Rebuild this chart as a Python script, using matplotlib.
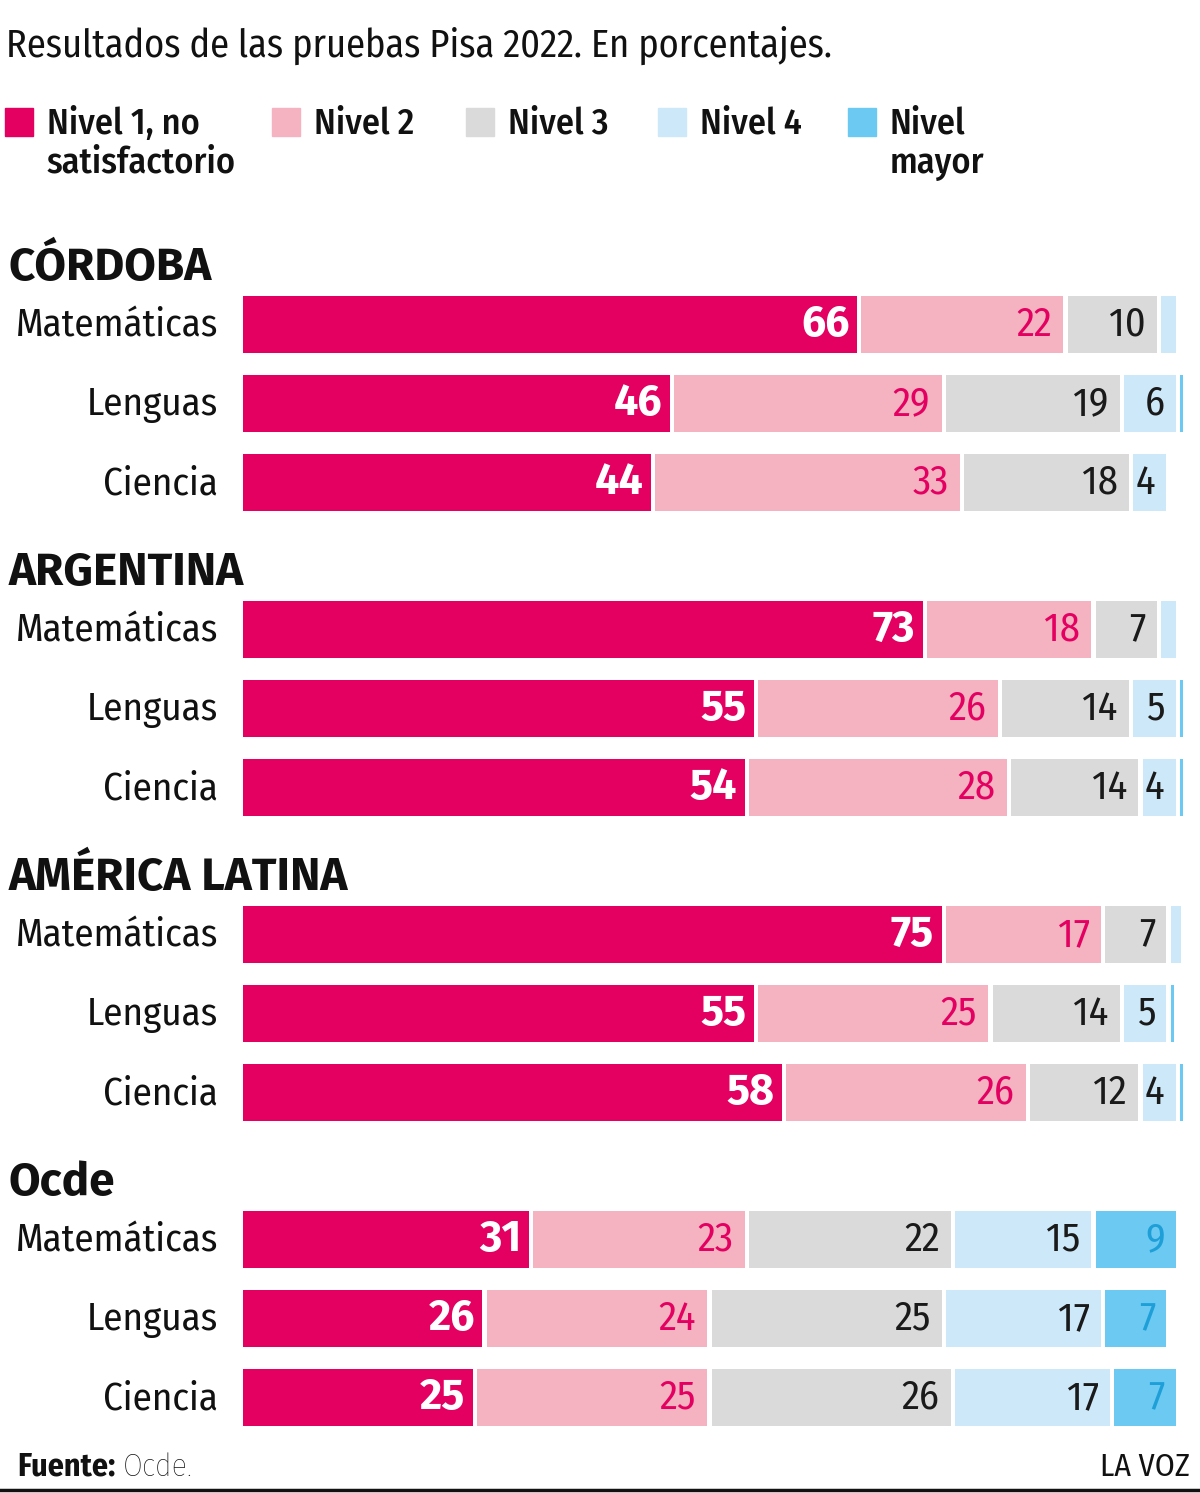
import matplotlib
matplotlib.use("Agg")
import matplotlib.pyplot as plt
import numpy as np

W, H = 1200, 1493

grupos = ["CÓRDOBA", "ARGENTINA", "AMÉRICA LATINA", "Ocde"]
materias = ["Matemáticas", "Lenguas", "Ciencia"]
niveles = ["Nivel 1, no\nsatisfactorio", "Nivel 2", "Nivel 3", "Nivel 4", "Nivel\nmayor"]

# valores por grupo: filas = materias, columnas = niveles (1, 2, 3, 4, mayor)
cordoba = [[66, 22, 10, 2, 0], [46, 29, 19, 6, 0.8], [44, 33, 18, 4, 0]]
argentina = [[73, 18, 7, 2, 0], [55, 26, 14, 5, 0.8], [54, 28, 14, 4, 0.8]]
america_latina = [[75, 17, 7, 1.6, 0], [55, 25, 14, 5, 0.8], [58, 26, 12, 4, 0.8]]
ocde = [[31, 23, 22, 15, 9], [26, 24, 25, 17, 7], [25, 25, 26, 17, 7]]
# etiquetas visibles (None = sin etiqueta)
etiquetas = [
    [[66, 22, 10, None, None], [46, 29, 19, 6, None], [44, 33, 18, 4, None]],
    [[73, 18, 7, None, None], [55, 26, 14, 5, None], [54, 28, 14, 4, None]],
    [[75, 17, 7, None, None], [55, 25, 14, 5, None], [58, 26, 12, 4, None]],
    [[31, 23, 22, 15, 9], [26, 24, 25, 17, 7], [25, 25, 26, 17, 7]],
]
datos = [cordoba, argentina, america_latina, ocde]

colores = ["#e30061", "#f5b2c1", "#dadada", "#cde8f8", "#6cc9f1"]
col_texto = ["white", "#e30061", "#1a1a1a", "#1a1a1a", "#1e9fd8"]

COND = ["Fira Sans Condensed", "DejaVu Sans"]
ANCHA = ["Fira Sans", "DejaVu Sans"]
plt.rcParams["font.family"] = COND

fig = plt.figure(figsize=(W / 100, H / 100), dpi=100)

def fx(px):
    return px / W

def fy(py):
    return 1 - py / H

# titulo
fig.text(fx(6), fy(45), "Resultados de las pruebas Pisa 2022. En porcentajes.",
         fontsize=27.6, va="center", ha="left", color="#111111")

# leyenda
ley_x = [5, 272, 466, 658, 848]
for i, (nom, c) in enumerate(zip(niveles, colores)):
    fig.patches.append(plt.Rectangle((fx(ley_x[i]), fy(136)), fx(28), 28 / H,
                                     transform=fig.transFigure, color=c))
    fig.text(fx(ley_x[i] + 42), fy(106), nom, fontsize=26, va="top", ha="left",
             color="#111111", linespacing=1.14, fontweight="medium")

# barras
ax = fig.add_axes([fx(243), 0, fx(937), 1])
ax.set_xlim(0, 100)
ax.set_ylim(H, 0)
ax.axis("off")

gap = 0.45
fila0, paso_fila, paso_grupo = 324, 79, 305
for g, (grupo, vals) in enumerate(zip(grupos, datos)):
    base = fila0 + g * paso_grupo
    fig.text(fx(9), fy(base - 56), grupo, fontsize=33, fontweight="bold",
             family=ANCHA, va="center", ha="left", color="#111111")
    for r, materia in enumerate(materias):
        y = base + r * paso_fila
        fig.text(fx(218), fy(y + 2), materia, fontsize=28, va="center", ha="right",
                 color="#111111")
        v = np.array(vals[r], dtype=float)
        left = np.concatenate([[0], np.cumsum(v)[:-1]])
        for k in range(5):
            if v[k] <= 0:
                continue
            ax.barh(y, v[k] - gap, left=left[k], height=57, color=colores[k],
                    clip_on=False)
            lab = etiquetas[g][r][k]
            if lab is None:
                continue
            if k == 0:
                ax.text(left[k] + v[k] - gap - 0.8, y + 1, str(lab), fontsize=31,
                        ha="right", va="center", color=col_texto[k],
                        fontweight="bold", family=ANCHA, clip_on=False)
            else:
                ax.text(left[k] + v[k] - gap - 1.2, y + 1, str(lab), fontsize=29,
                        ha="right", va="center", color=col_texto[k],
                        clip_on=False)

# pie
fig.text(fx(17), fy(1467), "Fuente:", fontsize=23, fontweight="bold", va="center",
         ha="left", color="#111111")
fig.text(fx(123), fy(1467), "Ocde.", fontsize=23, va="center", ha="left",
         color="#111111", fontweight="light")
fig.text(fx(1190), fy(1467), "LA VOZ", fontsize=23, va="center", ha="right",
         color="#111111")
fig.add_artist(plt.Line2D([0, 1], [fy(1490), fy(1490)], color="#111111", lw=2.5,
                          transform=fig.transFigure))

fig.savefig("out.png", dpi=100, facecolor="white")
